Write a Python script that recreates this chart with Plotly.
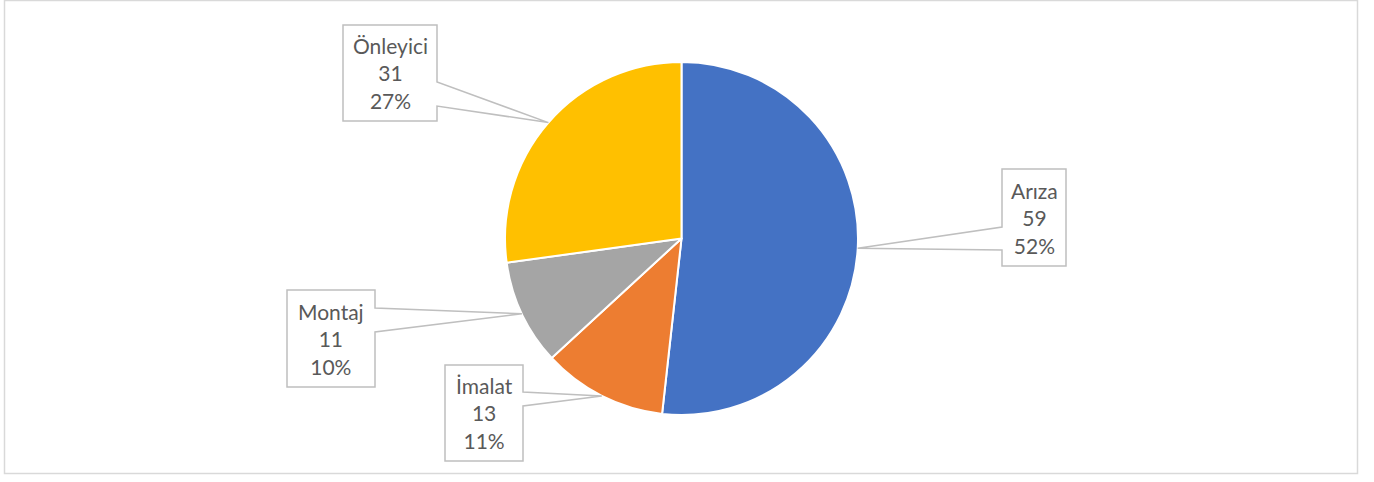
import math
import plotly.graph_objects as go

# ---- data ----
labels = ["Arıza", "İmalat", "Montaj", "Önleyici"]
values = [59, 13, 11, 31]
colors = ["#4472C4", "#ED7D31", "#A5A5A5", "#FFC000"]

# ---- layout (pixel geometry) ----
W, H = 1374, 482
CX, CY, R = 681.5, 238.5, 176.5

# callout boxes: x0, x1, y0, y1, side of wedge, wedge y1, wedge y2
boxes = {
    "Arıza":    (1002, 1066, 169, 266, "left", 227, 250),
    "İmalat":   (445, 523, 365, 461, "right", 392, 406),
    "Montaj":   (287, 375, 290, 387, "right", 308, 332),
    "Önleyici": (343, 437, 25, 121, "right", 82, 106),
}

total = sum(values)

fig = go.Figure()
fig.add_trace(go.Pie(
    labels=labels, values=values, sort=False, direction="clockwise", rotation=0,
    marker=dict(colors=colors, line=dict(color="white", width=2)),
    textinfo="none", hoverinfo="label+value+percent", showlegend=False,
    domain=dict(x=[(CX - R) / W, (CX + R) / W], y=[1 - (CY + R) / H, 1 - (CY - R) / H]),
))

# invisible pixel-coordinate axes for callouts
fig.add_trace(go.Scatter(x=[0, W], y=[0, H], mode="markers", marker=dict(opacity=0),
                         hoverinfo="skip", showlegend=False))

shapes = []
annotations = []
cum = 0
for lab, val in zip(labels, values):
    mid = (cum + val / 2) / total * 2 * math.pi
    cum += val
    px = CX + R * math.sin(mid)
    py = CY - R * math.cos(mid)
    x0, x1, y0, y1, side, w1, w2 = boxes[lab]
    if side == "right":
        path = (f"M {x0},{y0} L {x1},{y0} L {x1},{w1} L {px:.1f},{py:.1f} "
                f"L {x1},{w2} L {x1},{y1} L {x0},{y1} Z")
    else:
        path = (f"M {x0},{y0} L {x1},{y0} L {x1},{y1} L {x0},{y1} L {x0},{w2} "
                f"L {px:.1f},{py:.1f} L {x0},{w1} Z")
    shapes.append(dict(type="path", path=path, xref="x", yref="y",
                       line=dict(color="#BFBFBF", width=1.5), fillcolor="rgba(255,255,255,0)"))
    pct = round(val / total * 100)
    annotations.append(dict(
        x=(x0 + x1) / 2, y=(y0 + y1) / 2, xref="x", yref="y",
        text=f"{lab}<br>{val}<br>{pct}%", showarrow=False,
        xanchor="center", yanchor="middle", align="center",
        font=dict(family="Lato, Open Sans, sans-serif", size=21, color="#595959"),
    ))

# outer chart border
shapes.append(dict(type="rect", xref="x", yref="y", x0=4.5, x1=1357.5, y0=0.5, y1=473.5,
                   line=dict(color="#D9D9D9", width=1.5), fillcolor="rgba(0,0,0,0)", layer="below"))

fig.update_layout(
    width=W, height=H, margin=dict(l=0, r=0, t=0, b=0),
    paper_bgcolor="white", plot_bgcolor="rgba(0,0,0,0)",
    xaxis=dict(range=[0, W], visible=False, domain=[0, 1], fixedrange=True),
    yaxis=dict(range=[H, 0], visible=False, domain=[0, 1], fixedrange=True),
    shapes=shapes, annotations=annotations,
)

fig.write_html("out.html", config={"displayModeBar": False},
               post_script="document.body.style.margin='0';")
